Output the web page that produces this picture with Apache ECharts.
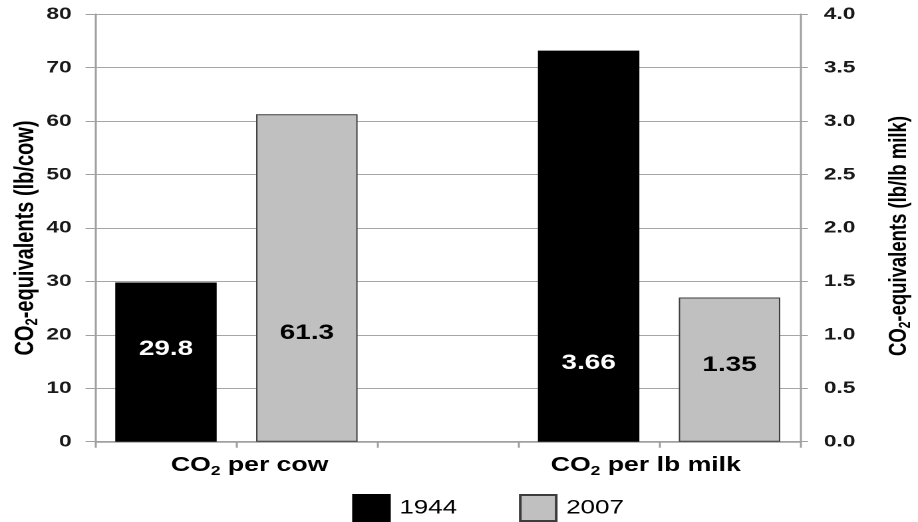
<!DOCTYPE html>
<html>
<head>
<meta charset="utf-8">
<script src="https://cdn.jsdelivr.net/npm/echarts@6/dist/echarts.min.js"></script>
<style>
  html, body { margin: 0; padding: 0; background: #fff; overflow: hidden; }
  /* the chart is laid out narrow and widened to the 918px frame */
  #chart { width: 690px; height: 522px; transform: scaleX(1.3304); transform-origin: 0 0; }
</style>
</head>
<body>
<div id="chart"></div>
<script>
// Five slots along the x axis: two per group with an empty one between.
const slots = ['', 'CO2 per cow', '', 'CO2 per lb milk', ''];
const years = ['1944', '2007'];
const perCow = [29.8, 61.3];      // lb CO2-eq per cow (left axis)
const perLbMilk = [3.66, 1.35];   // lb CO2-eq per lb of milk (right axis)
const cowSlots = [0, 1];
const milkSlots = [3, 4];
const leftTicks = [0, 10, 20, 30, 40, 50, 60, 70, 80];
const rightTicks = [0, 0.5, 1.0, 1.5, 2.0, 2.5, 3.0, 3.5, 4.0];

const FONT = '"Liberation Sans", Arial, sans-serif';
const yearColor = { '1944': '#000000', '2007': '#c0c0c0' };
const yearBorder = { '1944': '#000000', '2007': '#3c3c3c' };
const yearText = { '1944': '#ffffff', '2007': '#000000' };
// height of the value label above the bar base, per bar
const labelLift = { cow: [82, 98], milk: [68, 66] };

function column(value, slot) {
  return slots.map((_, i) => (i === slot ? value : '-'));
}

function barSeries(year, value, slot, axis, lift) {
  return {
    name: year,
    type: 'bar',
    yAxisIndex: axis,
    data: column(value, slot),
    barWidth: '72%',
    barGap: '-100%',
    itemStyle: { color: yearColor[year], borderColor: yearBorder[year], borderWidth: 1 },
    label: {
      show: true,
      position: 'insideBottom',
      distance: lift,
      color: yearText[year],
      fontFamily: FONT,
      fontWeight: 'bold',
      fontSize: 21
    },
    emphasis: { disabled: true }
  };
}

const series = [];
years.forEach((y, i) => series.push(barSeries(y, perCow[i], cowSlots[i], 0, labelLift.cow[i])));
years.forEach((y, i) => series.push(barSeries(y, perLbMilk[i], milkSlots[i], 1, labelLift.milk[i])));

const sub = (txt) => txt.replace('CO2', '{t|CO}{s|2}{t|');
function titleRich(size, spacer) {
  return {
    t: { fontFamily: FONT, fontWeight: 'bold', fontSize: size, color: '#000', lineHeight: size + 3 },
    s: { fontFamily: FONT, fontWeight: 'bold', fontSize: Math.round(size * 0.65), color: '#000', lineHeight: 9, verticalAlign: 'bottom' },
    g: { width: spacer }
  };
}

const gridLine = '#a6a6a6';
const axisLine = { show: true, lineStyle: { color: '#a0a0a0', width: 1.5 } };

const option = {
  animation: false,
  backgroundColor: '#ffffff',
  grid: {
    left: 71.8, right: 88.7, top: 14.3, bottom: 80.3,
    containLabel: false,
    outerBoundsMode: 'none'
  },
  legend: {
    data: years,
    icon: 'rect',
    itemWidth: 27,
    itemHeight: 26,
    itemGap: 46.5,
    left: 264.7,
    top: 494,
    padding: 0,
    selectedMode: false,
    textStyle: { fontFamily: FONT, fontSize: 19.5, color: '#000', padding: [0, 0, 0, 2.5] }
  },
  xAxis: {
    type: 'category',
    data: slots,
    axisLine: axisLine,
    axisTick: { show: true, length: 6, lineStyle: { color: '#a0a0a0', width: 1.5 } },
    axisLabel: {
      interval: 0,
      margin: 12,
      formatter: (v, i) => {
        if (!v) return '';
        const body = sub(v) + '}';
        return i < 2 ? body + '{g|}' : '{g|}' + body;
      },
      rich: {
        t: { fontFamily: FONT, fontWeight: 'bold', fontSize: 20, color: '#000', lineHeight: 24 },
        s: { fontFamily: FONT, fontWeight: 'bold', fontSize: 13, color: '#000', lineHeight: 10, verticalAlign: 'bottom' },
        g: { width: 86 }
      }
    }
  },
  yAxis: [
    {
      type: 'value',
      position: 'left',
      min: leftTicks[0],
      max: leftTicks[leftTicks.length - 1],
      interval: leftTicks[1] - leftTicks[0],
      name: sub('CO2-equivalents (lb/cow)') + '}{g|}',
      nameLocation: 'middle',
      nameRotate: 90,
      nameGap: 41,
      nameMoveOverlap: false,
      nameTextStyle: { rich: titleRich(20, 20) },
      axisLine: axisLine,
      axisTick: { show: true, length: 7.5, lineStyle: { color: '#a0a0a0', width: 1 } },
      axisLabel: { margin: 18, fontFamily: FONT, fontWeight: 'bold', fontSize: 17, color: '#1a1a1a' },
      splitLine: { show: true, lineStyle: { color: gridLine, width: 1 } }
    },
    {
      type: 'value',
      position: 'right',
      min: rightTicks[0],
      max: rightTicks[rightTicks.length - 1],
      interval: rightTicks[1] - rightTicks[0],
      name: sub('CO2-equivalents (lb/lb milk)') + '}{g|}',
      nameLocation: 'middle',
      nameRotate: 90,
      nameGap: 64,
      nameMoveOverlap: false,
      nameTextStyle: { rich: titleRich(18.5, 16) },
      axisLine: axisLine,
      axisTick: { show: true, length: 6, lineStyle: { color: '#a0a0a0', width: 1 } },
      axisLabel: {
        margin: 18, fontFamily: FONT, fontWeight: 'bold', fontSize: 17, color: '#1a1a1a',
        formatter: (v) => v.toFixed(1)
      },
      splitLine: { show: false }
    }
  ],
  series: series
};

const chart = echarts.init(document.getElementById('chart'), null, { renderer: 'canvas', devicePixelRatio: 2 });
chart.setOption(option);
</script>
</body>
</html>
